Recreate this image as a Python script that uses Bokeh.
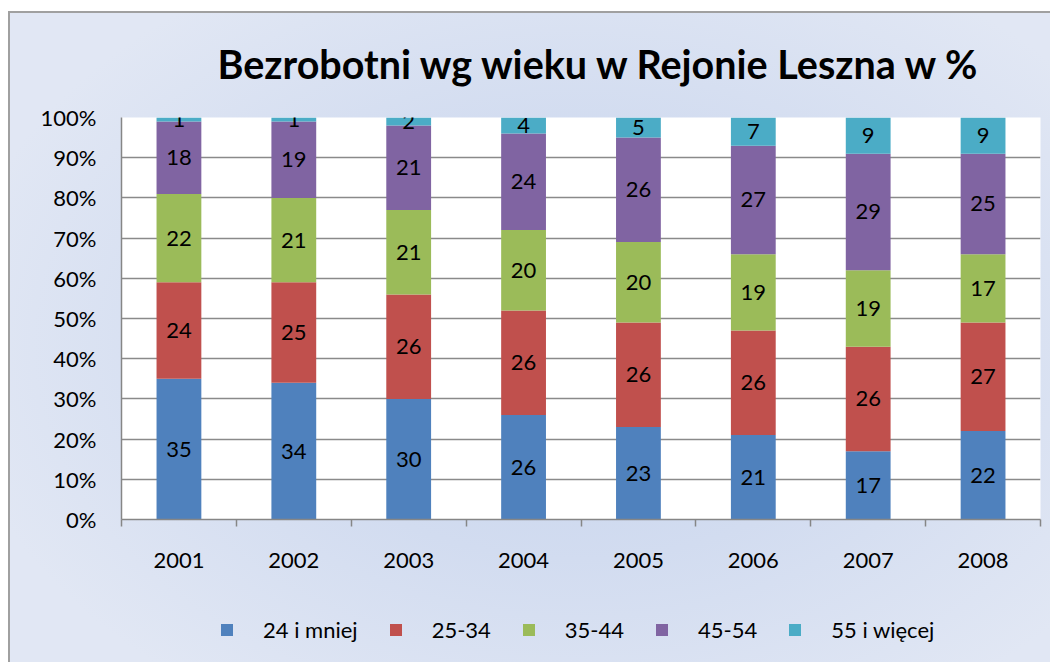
import numpy as np
from bokeh.plotting import figure
from bokeh.layouts import column
from bokeh.models import (ColumnDataSource, Range1d, FixedTicker, PrintfTickFormatter,
                          LabelSet, Legend, LegendItem)
from bokeh.core.properties import value
from bokeh.embed import file_html
from bokeh.resources import INLINE

years = ["2001", "2002", "2003", "2004", "2005", "2006", "2007", "2008"]
series_names = ["24 i mniej", "25-34", "35-44", "45-54", "55 i więcej"]
s24 = [35, 34, 30, 26, 23, 21, 17, 22]
s25 = [24, 25, 26, 26, 26, 26, 26, 27]
s35 = [22, 21, 21, 20, 20, 19, 19, 17]
s45 = [18, 19, 21, 24, 26, 27, 29, 25]
s55 = [1, 1, 2, 4, 5, 7, 9, 9]
colors = ["#4f81bd", "#c0504d", "#9bbb59", "#8064a2", "#4bacc6"]
title_text = "Bezrobotni wg wieku w Rejonie Leszna w %"

FONT = "Lato"
series = [s24, s25, s35, s45, s55]
keys = ["s24", "s25", "s35", "s45", "s55"]
xs = [i + 0.5 for i in range(len(years))]
data = {"x": xs}
for k, s in zip(keys, series):
    data[k] = s
source = ColumnDataSource(data)

p = figure(frame_width=919, frame_height=402, output_backend="svg", toolbar_location=None,
           x_range=Range1d(0, len(years)), y_range=Range1d(0, 100),
           min_border_left=121, min_border_right=10, min_border_top=117, min_border_bottom=81)
p.border_fill_color = None
p.background_fill_color = "white"
p.outline_line_color = None

renderers = p.vbar_stack(keys, x="x", width=0.39, color=colors, line_color=None, source=source)

# data labels
cum = np.zeros(len(years))
for k, s in zip(keys, series):
    arr = np.array(s, dtype=float)
    mid = cum + arr / 2
    cum = cum + arr
    lsrc = ColumnDataSource({"x": xs, "y": list(mid), "t": [str(v) for v in s]})
    p.add_layout(LabelSet(x="x", y="y", text="t", source=lsrc, text_align="center",
                          text_baseline="middle", text_font=value(FONT), text_font_size="22px",
                          text_color="black"))

# title
p.title.text = title_text
p.title.text_font = FONT
p.title.text_font_style = "bold"
p.title.text_font_size = "39.5px"
p.title.text_color = "black"
p.title.align = "left"
p.title.offset = 96
p.title.standoff = 62

# axes
p.xaxis.ticker = FixedTicker(ticks=xs, minor_ticks=list(range(len(years) + 1)))
p.xaxis.major_label_overrides = {x: y for x, y in zip(xs, years)}
p.xaxis.minor_tick_out = 7
p.xaxis.minor_tick_in = 0
p.xaxis.minor_tick_line_color = "#868686"
p.xaxis.minor_tick_line_width = 1.5
p.xaxis.major_tick_out = 0
p.xaxis.major_tick_in = 0
p.xaxis.major_label_standoff = 26

p.yaxis.ticker = FixedTicker(ticks=list(range(0, 101, 10)))
p.yaxis.formatter = PrintfTickFormatter(format="%d%%")
p.yaxis.major_tick_out = 8
p.yaxis.major_tick_in = 0
p.yaxis.minor_tick_line_color = None
p.yaxis.major_label_standoff = 17

for ax in (p.xaxis, p.yaxis):
    ax.axis_line_color = "#868686"
    ax.axis_line_width = 1.5
    ax.major_tick_line_color = "#868686" if ax is p.yaxis else None
    ax.major_tick_line_width = 1.5
    ax.major_label_text_font = FONT
    ax.major_label_text_font_size = "22px"
    ax.major_label_text_color = "black"

p.xgrid.grid_line_color = None
p.ygrid.ticker = FixedTicker(ticks=list(range(10, 101, 10)))
p.ygrid.grid_line_color = "#8a8a8a"
p.ygrid.grid_line_width = 1.5

# legend strip (separate figure below the chart)
pl = figure(width=1050, height=62, output_backend="svg", toolbar_location=None,
            x_range=Range1d(0, 1), y_range=Range1d(0, 1),
            min_border_left=0, min_border_right=0, min_border_top=0, min_border_bottom=0)
pl.axis.visible = False
pl.grid.visible = False
pl.border_fill_color = None
pl.background_fill_color = None
pl.outline_line_color = None
leg_renderers = pl.vbar_stack(keys, x="x", width=0.39, color=colors, line_color=None, source=source)
for r in leg_renderers:
    r.visible = False

legend = Legend(items=[LegendItem(label=n, renderers=[r]) for n, r in zip(series_names, leg_renderers)],
                orientation="horizontal", location=(98, 19), glyph_width=15, glyph_height=15,
                label_standoff=29, spacing=30, padding=0, margin=0,
                inactive_fill_alpha=0,
                border_line_color=None, background_fill_alpha=0,
                label_text_font=FONT, label_text_font_size="22px", label_text_color="black")
pl.add_layout(legend, "center")

layout = column(p, pl, spacing=0)
layout.styles = {"background": (
    "linear-gradient(#a0a0a0,#a0a0a0) 8px 11px / 100% 2px no-repeat, "
    "linear-gradient(#a0a0a0,#a0a0a0) 8px 11px / 2px 100% no-repeat, "
    "linear-gradient(#fff,#fff) 0 0 / 100% 11px no-repeat, "
    "linear-gradient(#fff,#fff) 0 0 / 8px 100% no-repeat, "
    "radial-gradient(ellipse 60% 65% at 55% 52%, #c6d4ee 0%, #d2dcf0 50%, #e1e7f4 100%)")}

open("out.html", "w").write(file_html(layout, INLINE))
